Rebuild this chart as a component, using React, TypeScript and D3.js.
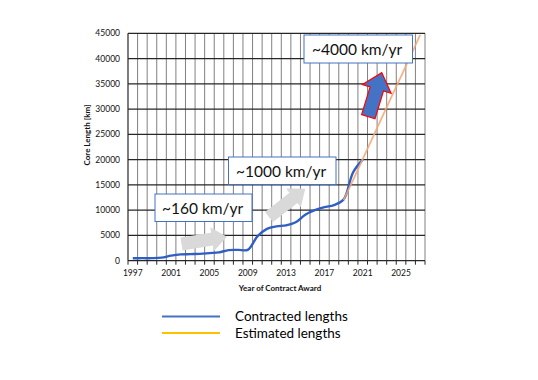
import React, { useEffect, useRef } from "react";
import * as d3 from "d3";

const years = d3.range(1997, 2028).map(String);
const tickYears = ["1997", "2001", "2005", "2009", "2013", "2017", "2021", "2025"];
const yTicks = [0, 5000, 10000, 15000, 20000, 25000, 30000, 35000, 40000, 45000];

const contractedYears = ["1997","1998","1999","2000","2001","2002","2003","2004","2005","2006","2007","2008","2009","2010","2011","2012","2013","2014","2015","2016","2017","2018","2019","2020","2021"];
const contractedValues = [480, 500, 500, 600, 1000, 1250, 1300, 1350, 1500, 1650, 2100, 2150, 2150, 4800, 6300, 6800, 7000, 7600, 9100, 10000, 10600, 11000, 12100, 17500, 20000];

const estimatedYears = ["2019","2020","2021","2022","2023","2024","2025","2026","2027"];
const estimatedValues = [12000, 16000, 20100, 24200, 28300, 32400, 36500, 40600, 44700];

const legendLabels = ["Contracted lengths", "Estimated lengths"];
const rateLabels = ["~160 km/yr", "~1000 km/yr", "~4000 km/yr"];

const FONT = "Lato, 'Open Sans', sans-serif";

function arrowPoints(len: number, shaftW: number, headW: number, headLen: number): [number, number][] {
  const s = shaftW / 2, h = headW / 2, b = len - headLen;
  return [[0, -s], [b, -s], [b, -h], [len, 0], [b, h], [b, s], [0, s]];
}

export default function App() {
  const ref = useRef<SVGSVGElement>(null);

  useEffect(() => {
    const svg = d3.select(ref.current);
    svg.selectAll("*").remove();

    const x = d3.scaleBand<string>().domain(years).range([128, 425]).padding(0);
    const y = d3.scaleLinear().domain([0, 45000]).range([260.7, 33.3]);
    const cx = (yr: string) => (x(yr) as number) + x.bandwidth() / 2;

    const g = svg.append("g");

    const bounds = years.map((yr) => x(yr) as number).concat([425]);
    g.selectAll("line.vg").data(bounds.slice(1)).join("line")
      .attr("x1", (d) => d).attr("x2", (d) => d)
      .attr("y1", y(45000)).attr("y2", y(0))
      .attr("stroke", "#808080").attr("stroke-width", 1);

    g.selectAll("line.hg").data(yTicks).join("line")
      .attr("x1", 128).attr("x2", 425)
      .attr("y1", (d) => y(d)).attr("y2", (d) => y(d))
      .attr("stroke", "#262626").attr("stroke-width", 1.2);

    g.append("line").attr("x1", 128).attr("x2", 128).attr("y1", y(45000)).attr("y2", y(0))
      .attr("stroke", "#262626").attr("stroke-width", 1.2);

    g.selectAll("line.xt").data(bounds).join("line")
      .attr("x1", (d) => d).attr("x2", (d) => d)
      .attr("y1", y(0)).attr("y2", y(0) + 4)
      .attr("stroke", "#262626").attr("stroke-width", 1);

    g.selectAll("text.yl").data(yTicks).join("text")
      .attr("x", 120).attr("y", (d) => y(d) + 3)
      .attr("text-anchor", "end")
      .attr("font-family", FONT).attr("font-size", 8.5).attr("fill", "#111")
      .text((d) => String(d));

    g.selectAll("text.xl").data(tickYears).join("text")
      .attr("x", (d) => cx(d)).attr("y", 276)
      .attr("text-anchor", "middle")
      .attr("font-family", FONT).attr("font-size", 8.5).attr("fill", "#111")
      .text((d) => d);

    g.append("text").attr("x", 280).attr("y", 291).attr("text-anchor", "middle")
      .attr("font-family", FONT).attr("font-size", 8).attr("font-weight", "bold").attr("fill", "#111")
      .text("Year of Contract Award");
    g.append("text").attr("transform", "translate(90,135) rotate(-90)").attr("text-anchor", "middle")
      .attr("font-family", FONT).attr("font-size", 8).attr("font-weight", "bold").attr("fill", "#111")
      .text("Core Length [km]");

    const line = d3.line<[string, number]>()
      .x((d) => cx(d[0])).y((d) => y(d[1]))
      .curve(d3.curveCatmullRom.alpha(0.5));

    g.append("path").datum(contractedYears.map((yr, i) => [yr, contractedValues[i]] as [string, number]))
      .attr("d", line).attr("fill", "none").attr("stroke", "#2F5FC4").attr("stroke-width", 2.4);

    g.append("path").datum(estimatedYears.map((yr, i) => [yr, estimatedValues[i]] as [string, number]))
      .attr("d", d3.line<[string, number]>().x((d) => cx(d[0])).y((d) => y(d[1])))
      .attr("fill", "none").attr("stroke", "#F4A672").attr("stroke-width", 1.8).attr("stroke-opacity", 0.85);

    const arrow = (bx: number, by: number, ang: number, len: number, sw: number, hw: number, hl: number, fill: string, stroke: string) => {
      g.append("polygon")
        .attr("points", arrowPoints(len, sw, hw, hl).map((p) => p.join(",")).join(" "))
        .attr("transform", `translate(${bx},${by}) rotate(${-ang})`)
        .attr("fill", fill).attr("stroke", stroke).attr("stroke-width", stroke === "none" ? 0 : 1.2)
        .attr("stroke-linejoin", "miter");
    };
    arrow(181.5, 244, 9, 46, 13, 24, 15, "#D9D9D9", "none");
    arrow(269, 217, 38, 46, 13, 24, 15, "#D9D9D9", "none");

    const box = (bx: number, by: number, w: number, h: number, t: string, tx: number, ty: number) => {
      g.append("rect").attr("x", bx).attr("y", by).attr("width", w).attr("height", h)
        .attr("fill", "#fff").attr("stroke", "#4472C4").attr("stroke-width", 1);
      g.append("text").attr("x", tx).attr("y", ty)
        .attr("font-family", FONT).attr("font-size", 15.5).attr("fill", "#111").text(t);
    };
    box(155, 194, 97, 27.5, rateLabels[0], 162, 214);
    box(228.5, 157, 107.5, 27.5, rateLabels[1], 236, 177);
    box(304, 35, 108.5, 28, rateLabels[2], 312, 55);

    arrow(368.3, 116.7, 73, 46, 14, 30, 17, "#4472C4", "#FF0000");

    const legendColors = ["#4472C4", "#FFC000"];
    legendLabels.forEach((lab, i) => {
      const ly = 316.5 + i * 16.5;
      g.append("line").attr("x1", 162).attr("x2", 220).attr("y1", ly).attr("y2", ly)
        .attr("stroke", legendColors[i]).attr("stroke-width", 2);
      g.append("text").attr("x", 235).attr("y", ly + 4.5)
        .attr("font-family", FONT).attr("font-size", 13.5).attr("fill", "#000").text(lab);
    });
  }, []);

  return (
    <svg ref={ref} width={538} height={380}
      style={{ position: "absolute", left: 0, top: 0, background: "#fff" }} />
  );
}
